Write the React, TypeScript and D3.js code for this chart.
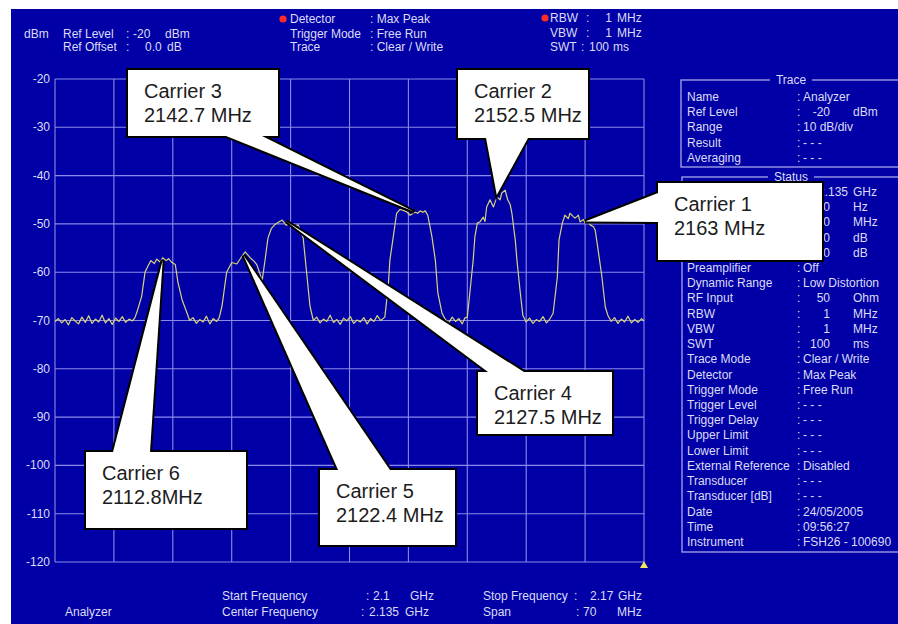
import React from "react";
import * as d3 from "d3";

// ---------- data ----------
const yTickValues = [-20, -30, -40, -50, -60, -70, -80, -90, -100, -110, -120];
const startFreqMHz = 2100;
const stopFreqMHz = 2170;
const gridStepMHz = 7;

// trace: [offset from start frequency (MHz), level (dBm)]
const tracePoints: [number, number][] = [
  [0, -70.2], [0.4, -69.6], [0.8, -70.5], [1.2, -69.8], [1.6, -70.9], [2.0, -69.4], [2.4, -70.1], [2.8, -70.7],
  [3.2, -69.3], [3.6, -70.4], [4.0, -69.0], [4.4, -70.6], [4.8, -69.7], [5.2, -70.3], [5.6, -68.9], [6.0, -70.5],
  [6.4, -69.6], [6.8, -70.8], [7.2, -69.5], [7.6, -70.2], [8.0, -69.2], [8.4, -70.4], [8.8, -69.7], [9.2, -70.1],
  [9.5, -69.4],
  [9.75, -68.2], [10.3, -65.0], [10.7, -60.0], [11.05, -58.7], [11.4, -57.6], [11.8, -58.2], [12.1, -57.3],
  [12.5, -57.9], [12.8, -57.0], [13.2, -57.6], [13.5, -57.2], [13.9, -58.0], [14.3, -58.4], [14.6, -62.0],
  [15.1, -65.7], [15.7, -68.5], [16.0, -70.0],
  [16.4, -69.4], [16.8, -70.6], [17.2, -69.8], [17.6, -70.3], [18.0, -69.1], [18.4, -70.7], [18.8, -69.6],
  [19.2, -70.2], [19.5, -69.5],
  [19.85, -67.0], [20.4, -60.0], [21.0, -58.0], [21.6, -58.3], [22.1, -57.0], [22.6, -55.8], [23.2, -57.0],
  [23.7, -57.8], [24.0, -58.5], [24.4, -60.5], [24.6, -62.0], [25.0, -57.0], [25.3, -53.0], [25.7, -51.0],
  [26.1, -50.2], [26.6, -49.6], [27.0, -49.2], [27.5, -50.3], [27.9, -49.8], [28.4, -50.5], [28.9, -50.2],
  [29.1, -51.0], [29.5, -53.0], [29.9, -60.0], [30.3, -67.0], [30.7, -70.0],
  [31.1, -69.3], [31.5, -70.5], [31.9, -69.7], [32.3, -70.2], [32.7, -68.9], [33.1, -70.4], [33.5, -69.8],
  [33.9, -70.8], [34.3, -69.5], [34.7, -70.1], [35.1, -69.2], [35.5, -70.6], [35.9, -69.9], [36.3, -70.3],
  [36.7, -69.4], [37.1, -70.7], [37.5, -69.6], [37.9, -70.2], [38.3, -69.0], [38.7, -70.0],
  [39.2, -69.3], [39.6, -63.0], [39.8, -57.5], [40.2, -52.7], [40.6, -47.8], [41.0, -47.0], [41.4, -47.2],
  [41.8, -47.5], [42.2, -48.2], [42.5, -47.9], [42.8, -47.6], [43.1, -47.8], [43.4, -47.3], [43.7, -47.6],
  [44.0, -47.3], [44.3, -48.2], [44.8, -52.7], [45.2, -57.5], [45.5, -64.3], [46.0, -68.5],
  [46.4, -69.8], [46.8, -70.5], [47.2, -69.3], [47.6, -70.2], [48.0, -69.6], [48.4, -70.7], [48.7, -69.5],
  [49.0, -69.3], [49.3, -64.3], [49.7, -57.5], [49.9, -52.7], [50.2, -49.8], [50.5, -49.6], [50.9, -48.6],
  [51.1, -49.5], [51.3, -46.5], [51.7, -45.0], [52.1, -46.5], [52.3, -45.5], [52.5, -44.4], [52.9, -45.0],
  [53.1, -43.6], [53.5, -43.0], [53.8, -45.0], [54.1, -46.0], [54.3, -47.8], [54.7, -53.3], [54.9, -57.5],
  [55.3, -64.3], [55.6, -68.9],
  [56.0, -70.3], [56.4, -69.5], [56.8, -70.6], [57.2, -69.8], [57.6, -70.2], [58.0, -69.2], [58.4, -70.5],
  [58.8, -69.7],
  [59.2, -68.5], [59.7, -61.0], [59.9, -53.3], [60.3, -49.8], [60.6, -48.2], [61.0, -48.9], [61.2, -47.8],
  [61.6, -48.5], [61.8, -48.8], [62.2, -48.2], [62.4, -49.6], [62.8, -49.1], [63.0, -49.8], [63.4, -49.5],
  [63.6, -50.2], [64.0, -50.6], [64.2, -51.3], [64.5, -54.8], [65.0, -61.0], [65.4, -67.2], [65.7, -68.9],
  [66.1, -70.2], [66.5, -69.4], [66.9, -70.6], [67.3, -69.7], [67.7, -70.3], [68.1, -69.1], [68.5, -70.5],
  [68.9, -69.8], [69.3, -70.4], [69.7, -69.6], [70.0, -70.1],
];

const carrierNames = ["Carrier 1", "Carrier 2", "Carrier 3", "Carrier 4", "Carrier 5", "Carrier 6"];
const carrierFreqLabels = ["2163 MHz", "2152.5 MHz", "2142.7 MHz", "2127.5 MHz", "2122.4 MHz", "2112.8MHz"];
const carrierFreqs = [2163, 2152.5, 2142.7, 2127.5, 2122.4, 2112.8];
const carrierPeaks = [-49.5, -44, -47.5, -49.5, -56.5, -57.5];

const traceLabels = ["Name", "Ref Level", "Range", "Result", "Averaging"];
const traceValues = ["Analyzer", "-20", "10 dB/div", "- - -", "- - -"];
const traceUnits = ["", "dBm", "", "", ""];

const statusLabels = [
  "Center Frequency", "Frequency Offset", "Span", "Attenuation", "Ref Offset", "Preamplifier", "Dynamic Range",
  "RF Input", "RBW", "VBW", "SWT", "Trace Mode", "Detector", "Trigger Mode", "Trigger Level", "Trigger Delay",
  "Upper Limit", "Lower Limit", "External Reference", "Transducer", "Transducer [dB]", "Date", "Time", "Instrument",
];
const statusValues = [
  "2.135", "0", "70", "10", "0.0", "Off", "Low Distortion", "50", "1", "1", "100", "Clear / Write", "Max Peak",
  "Free Run", "- - -", "- - -", "- - -", "- - -", "Disabled", "- - -", "- - -", "24/05/2005", "09:56:27",
  "FSH26 - 100690",
];
const statusUnits = [
  "GHz", "Hz", "MHz", "dB", "dB", "", "", "Ohm", "MHz", "MHz", "ms", "", "", "", "", "", "", "", "", "", "", "", "", "",
];

// ---------- layout ----------
const W = 898;
const H = 624;
const BG = "#0000a6";
const TXT = "#dcdcf6";
const GRID = "#8a8ae8";
const FONT = "'Liberation Sans', Arial, sans-serif";
// status rows hidden behind the "Carrier 1" callout
const HIDDEN_STATUS_ROWS = 5;

const calloutLayout = [
  { box: [658, 183, 164, 77], base: [[658, 193], [658, 222]] },
  { box: [458, 70, 130, 68], base: [[486, 138], [528, 138]] },
  { box: [128, 70, 150, 66], base: [[226, 136], [262, 136]] },
  { box: [478, 372, 134, 62], base: [[488, 372], [524, 372]] },
  { box: [320, 470, 135, 75], base: [[338, 470], [390, 470]] },
  { box: [86, 452, 160, 76], base: [[113, 452], [150, 452]] },
];

function T(props: any) {
  const { x, y, children, anchor, size, fill } = props;
  return (
    <text x={x} y={y} textAnchor={anchor || "start"} fontSize={size || 12} fill={fill || TXT} fontFamily={FONT}>
      {children}
    </text>
  );
}

export default function App() {
  const x = d3.scaleLinear().domain([startFreqMHz, stopFreqMHz]).range([55, 644]);
  const y = d3.scaleLinear().domain([-20, -120]).range([79, 562]);
  const gridFreqs = d3.range(startFreqMHz, stopFreqMHz + 0.001, gridStepMHz);
  const line = d3
    .line<[number, number]>()
    .x((d) => x(startFreqMHz + d[0]))
    .y((d) => y(d[1]));

  const statusRowY = (i: number) => 268 + (i - 5) * 15.22 + 4;
  const traceRowY = (i: number) => 97 + i * 15.2 + 4;

  const callouts = carrierNames.map((name, i) => {
    const L = calloutLayout[i];
    const [bx, by, bw, bh] = L.box;
    const tip: [number, number] = [x(carrierFreqs[i]), y(carrierPeaks[i])];
    const pts = [tip, L.base[0], L.base[1]].map((p) => p.join(",")).join(" ");
    return { name, label: carrierFreqLabels[i], bx, by, bw, bh, pts };
  });

  return (
    <svg width={W} height={H} style={{ position: "absolute", left: 0, top: 0, display: "block" }}>
      <rect x={0} y={0} width={W} height={H} fill="#ffffff" />
      <rect x={11} y={9} width={W - 11} height={H - 9} fill={BG} />

      {/* header */}
      <circle cx={283} cy={19} r={3.6} fill="#ff2a2a" />
      <circle cx={545} cy={18} r={3.6} fill="#ff2a2a" />
      <T x={290} y={23}>Detector</T>
      <T x={370} y={23}>: Max Peak</T>
      <T x={550} y={22}>RBW</T>
      <T x={586} y={22}>:</T>
      <T x={612} y={22} anchor="end">1</T>
      <T x={617} y={22}>MHz</T>

      <T x={24} y={38}>dBm</T>
      <T x={63} y={38}>Ref Level</T>
      <T x={126} y={38}>:</T>
      <T x={133} y={38}>-20</T>
      <T x={165} y={38}>dBm</T>
      <T x={290} y={38}>Trigger Mode</T>
      <T x={370} y={38}>: Free Run</T>
      <T x={550} y={37}>VBW</T>
      <T x={586} y={37}>:</T>
      <T x={612} y={37} anchor="end">1</T>
      <T x={617} y={37}>MHz</T>

      <T x={63} y={51}>Ref Offset</T>
      <T x={126} y={51}>:</T>
      <T x={145} y={51}>0.0</T>
      <T x={167} y={51}>dB</T>
      <T x={290} y={51}>Trace</T>
      <T x={370} y={51}>: Clear / Write</T>
      <T x={550} y={51}>SWT</T>
      <T x={581} y={51}>:</T>
      <T x={589} y={51}>100</T>
      <T x={613} y={51}>ms</T>

      {/* grid */}
      {gridFreqs.map((f) => (
        <line key={"v" + f} x1={x(f)} x2={x(f)} y1={y(-20)} y2={y(-120)} stroke={GRID} strokeWidth={1.1} />
      ))}
      {yTickValues.map((v) => (
        <line key={"h" + v} x1={x(startFreqMHz)} x2={x(stopFreqMHz)} y1={y(v)} y2={y(v)} stroke={GRID} strokeWidth={1.1} />
      ))}
      {yTickValues.map((v) => (
        <T key={"t" + v} x={50} y={y(v) + 4} anchor="end">
          {String(v)}
        </T>
      ))}

      {/* trace */}
      <path d={line(tracePoints) || ""} fill="none" stroke="#d8d27c" strokeWidth={1.2} strokeLinejoin="round" />

      {/* marker */}
      <path d={`M${x(stopFreqMHz)},${y(-120) - 1} l4,7 l-8,0 z`} fill="#f2e45a" />

      {/* right panel: trace */}
      <rect x={681} y={80} width={240} height={87} fill="none" stroke="#9a9ae6" strokeWidth={1.4} />
      <rect x={770} y={74} width={42} height={12} fill={BG} />
      <T x={791} y={84} anchor="middle">Trace</T>
      {traceLabels.map((l, i) => (
        <g key={"tr" + i}>
          <T x={687} y={traceRowY(i)}>{l}</T>
          <T x={797} y={traceRowY(i)}>:</T>
          {traceUnits[i] ? (
            <T x={830} y={traceRowY(i)} anchor="end">{traceValues[i]}</T>
          ) : (
            <T x={803} y={traceRowY(i)}>{traceValues[i]}</T>
          )}
          <T x={853} y={traceRowY(i)}>{traceUnits[i]}</T>
        </g>
      ))}

      {/* right panel: status */}
      <rect x={682} y={177} width={240} height={375} fill="none" stroke="#9a9ae6" strokeWidth={1.4} />
      <rect x={768} y={171} width={46} height={12} fill={BG} />
      <T x={791} y={181} anchor="middle">Status</T>
      {statusLabels.map((l, i) => (
        <g key={"st" + i}>
          {i >= HIDDEN_STATUS_ROWS && <T x={687} y={statusRowY(i)}>{l}</T>}
          {i >= HIDDEN_STATUS_ROWS && <T x={797} y={statusRowY(i)}>:</T>}
          {statusUnits[i] ? (
            <T x={i === 0 ? 848 : 830} y={statusRowY(i)} anchor="end">{statusValues[i]}</T>
          ) : (
            <T x={803} y={statusRowY(i)}>{statusValues[i]}</T>
          )}
          <T x={853} y={statusRowY(i)}>{statusUnits[i]}</T>
        </g>
      ))}

      {/* bottom */}
      <T x={65} y={616}>Analyzer</T>
      <T x={222} y={600}>Start Frequency</T>
      <T x={366} y={600}>:</T>
      <T x={373} y={600}>2.1</T>
      <T x={410} y={600}>GHz</T>
      <T x={222} y={616}>Center Frequency</T>
      <T x={361} y={616}>:</T>
      <T x={369} y={616}>2.135</T>
      <T x={405} y={616}>GHz</T>
      <T x={483} y={600}>Stop Frequency</T>
      <T x={574} y={600}>:</T>
      <T x={590} y={600}>2.17</T>
      <T x={618} y={600}>GHz</T>
      <T x={483} y={616}>Span</T>
      <T x={576} y={616}>:</T>
      <T x={583} y={616}>70</T>
      <T x={617} y={616}>MHz</T>

      {/* callouts */}
      {callouts.map((c, i) => (
        <g key={"c" + i}>
          <rect x={c.bx} y={c.by} width={c.bw} height={c.bh} fill="#000" stroke="#000" strokeWidth={4} />
          <polygon points={c.pts} fill="#000" stroke="#000" strokeWidth={4} strokeLinejoin="miter" />
          <rect x={c.bx} y={c.by} width={c.bw} height={c.bh} fill="#fff" />
          <polygon points={c.pts} fill="#fff" />
          <text x={c.bx + 16} y={c.by + 28} fontSize={20} fill="#1c1c1c" fontFamily={FONT}>
            {c.name}
          </text>
          <text x={c.bx + 16} y={c.by + 52} fontSize={20} fill="#1c1c1c" fontFamily={FONT}>
            {c.label}
          </text>
        </g>
      ))}
    </svg>
  );
}
